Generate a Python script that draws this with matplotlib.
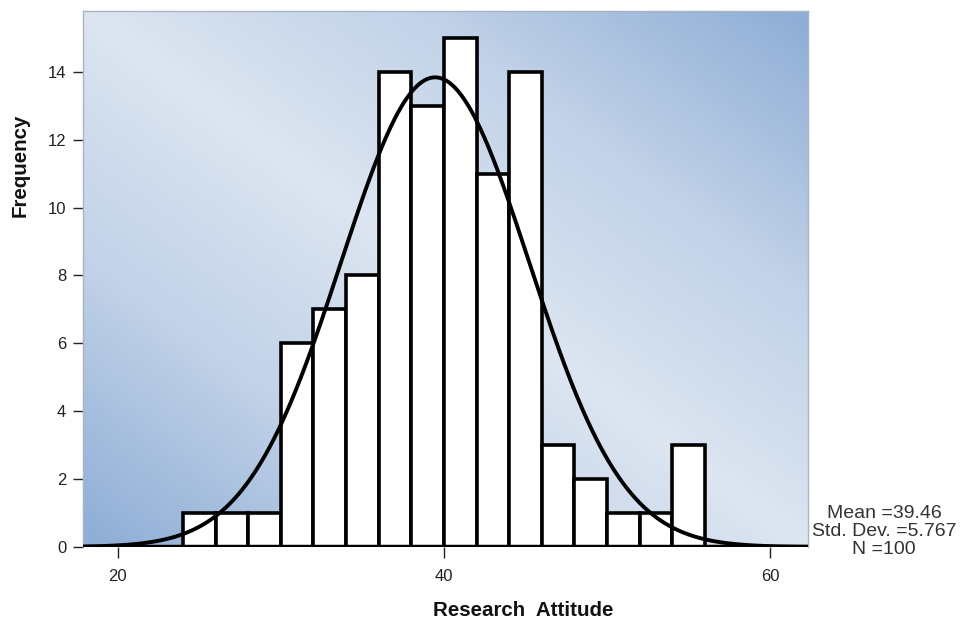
import numpy as np
import matplotlib
matplotlib.use('Agg')
import matplotlib.pyplot as plt
from matplotlib.colors import LinearSegmentedColormap

plt.rcParams.update({
    'font.family': ['Liberation Sans', 'DejaVu Sans'],
    'font.size': 12,
})

# ── data ──────────────────────────────────────────────────────────────────────
bin_left = [24, 26, 28, 30, 32, 34, 36, 38, 40, 42, 44, 46, 48, 50, 52, 54]
counts   = [1, 1, 1, 6, 7, 8, 14, 13, 15, 11, 14, 3, 2, 1, 1, 3]
bin_w    = 2
MEAN, SD, N = 39.46, 5.767, 100

x_ticks = [20, 40, 60]
y_ticks = [0, 2, 4, 6, 8, 10, 12, 14]

# ── figure ────────────────────────────────────────────────────────────────────
fig = plt.figure(figsize=(9.62, 6.21), dpi=100)
ax = fig.add_axes([0.0863, 0.1192, 0.7537, 0.8631])
XMIN, XMAX, YMIN, YMAX = 17.87, 62.33, 0, 15.79
ax.set_xlim(XMIN, XMAX); ax.set_ylim(YMIN, YMAX)

# gradient backdrop: dark at bottom-left / top-right, light along the other diagonal
gx, gy = np.meshgrid(np.linspace(0, 1, 300), np.linspace(0, 1, 300))
u = np.abs((gx + gy) / 2 - 0.5) * 2
cmap = LinearSegmentedColormap.from_list('bg', ['#dde6f1', '#c2d2e8', '#8dadd6'])
ax.imshow(u ** 0.9, cmap=cmap, origin='lower', aspect='auto',
          extent=[XMIN, XMAX, YMIN, YMAX], zorder=0, vmin=0, vmax=1)

ax.bar(bin_left, counts, width=bin_w, align='edge', color='white',
       edgecolor='black', linewidth=2.6, zorder=2)

xs = np.linspace(XMIN, XMAX, 500)
curve = N * bin_w / (SD * np.sqrt(2 * np.pi)) * np.exp(-0.5 * ((xs - MEAN) / SD) ** 2)
ax.plot(xs, curve, color='black', lw=2.8, zorder=3)
ax.axhline(0, color='black', lw=3.2, zorder=4)

for side in ['top', 'right', 'left']:
    ax.spines[side].set_color('#a8b4c4'); ax.spines[side].set_linewidth(1.0)
ax.spines['bottom'].set_visible(False)

ax.set_xticks(x_ticks); ax.set_yticks(y_ticks)
ax.tick_params(direction='out', length=7, width=1, colors='#222222',
               labelsize=12, pad=5)
ax.tick_params(axis='x', length=8, pad=8)

fig.text(0.5437, 0.0177, 'Research  Attitude', ha='center', va='center',
         fontsize=14.8, fontweight='bold', color='#111111')
fig.text(0.0208, 0.7343, 'Frequency', ha='center', va='center', rotation=90,
         fontsize=14.8, fontweight='bold', color='#111111')

fig.text(0.919, 0.144, f'Mean ={MEAN}\nStd. Dev. ={SD}\nN ={N}',
         ha='center', va='center', fontsize=14, color='#333333',
         linespacing=1.06)

fig.savefig('out.png', dpi=100, facecolor='white')
